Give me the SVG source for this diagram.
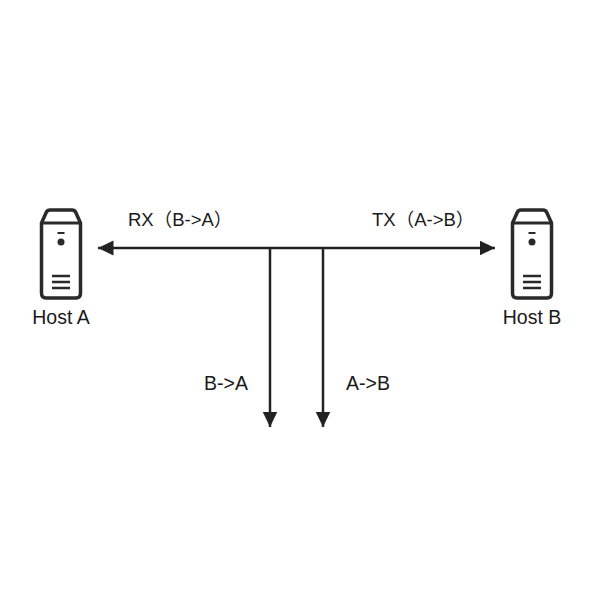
<svg xmlns="http://www.w3.org/2000/svg" width="600" height="600" viewBox="0 0 600 600">
<defs>
<marker id="arrow" markerUnits="userSpaceOnUse" markerWidth="17" markerHeight="17" refX="15.500" refY="8.500" orient="auto"><path d="M0,1 L15.500,8.500 L0,16 Z" fill="#222"/></marker>
<g id="server">
<path d="M-19.500,-27 V43 Q-19.500,48 -15,48 H15 Q19.500,48 19.500,43 V-27 L15,-37 Q14,-40 11,-40 H-11 Q-14,-40 -15,-37 Z" fill="#fff" stroke="#2a2a2a" stroke-width="3.500" stroke-linejoin="round"/>
<path d="M-19.500,-27 H19.500" fill="none" stroke="#2a2a2a" stroke-width="3"/>
<path d="M-3.500,-17 H3.500" stroke="#2a2a2a" stroke-width="2"/>
<circle cx="0" cy="-8" r="3.500" fill="#2a2a2a"/>
<path d="M-9,26 H9 M-9,32 H9 M-9,38 H9" stroke="#2a2a2a" stroke-width="2.500"/>
</g>
</defs>
<style>
text{font-family:"Liberation Sans",Arial,"Noto Sans CJK SC",sans-serif;font-size:19.500px;fill:#1a1a1a}
.s{font-size:18.500px}
.c{fill:none;stroke:#222;stroke-width:2.500;marker-end:url(#arrow)}
</style>
<rect width="600" height="600" fill="#fff"/>
<g id="connectors">
<path class="c" d="M270,248 H98"/>
<path class="c" d="M323,248 H495"/>
<path d="M270,248 H323" fill="none" stroke="#222" stroke-width="2.500"/>
<path class="c" d="M270,248 V427"/>
<path class="c" d="M323,248 V427"/>
</g>
<g id="host-a"><use href="#server" x="61" y="250"/><text x="61" y="324" text-anchor="middle">Host A</text></g>
<g id="host-b"><use href="#server" x="532" y="250"/><text x="532" y="324" text-anchor="middle">Host B</text></g>
<g id="labels">
<text class="s" x="128" y="226">RX（B-&gt;A）</text>
<text class="s" x="372" y="226">TX（A-&gt;B）</text>
<text x="204" y="390">B-&gt;A</text>
<text x="346" y="390">A-&gt;B</text>
</g>
</svg>
